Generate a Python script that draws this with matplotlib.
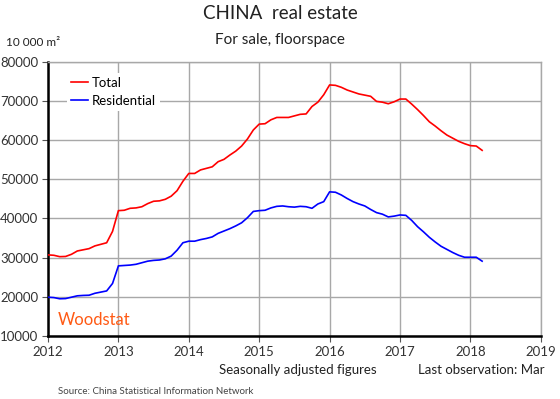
import matplotlib
matplotlib.use("Agg")
import matplotlib.pyplot as plt
import numpy as np

plt.rcParams['font.family'] = ['Lato', 'DejaVu Sans']

# Monthly observations, Jan 2012 .. Mar 2018 (10 000 m2)
start_year = 2012
total = [
    30700, 30600, 30250, 30300, 30850, 31700, 32000, 32300, 33000, 33400, 33800, 36700,  # 2012
    42000, 42100, 42600, 42700, 43000, 43800, 44400, 44500, 44900, 45700, 47100, 49500,  # 2013
    51500, 51500, 52400, 52800, 53200, 54500, 55100, 56200, 57200, 58500, 60300, 62600,  # 2014
    64100, 64200, 65200, 65800, 65800, 65800, 66200, 66600, 66700, 68600, 69700, 71600,  # 2015
    74100, 74000, 73500, 72800, 72300, 71800, 71500, 71200, 69900, 69700, 69300, 69800,  # 2016
    70500, 70500, 69200, 67800, 66300, 64700, 63600, 62400, 61300, 60500, 59700, 59100,  # 2017
    58600, 58500, 57400,                                                                  # 2018
]
residential = [
    19900, 19800, 19500, 19550, 19900, 20250, 20350, 20400, 20900, 21200, 21500, 23400,  # 2012
    27900, 28000, 28100, 28300, 28700, 29100, 29300, 29400, 29700, 30400, 31900, 33800,  # 2013
    34200, 34200, 34600, 34900, 35300, 36200, 36800, 37400, 38100, 38900, 40200, 41800,  # 2014
    42000, 42100, 42700, 43100, 43200, 43000, 42900, 43100, 43000, 42600, 43700, 44300,  # 2015
    46800, 46700, 46000, 45100, 44300, 43700, 43200, 42300, 41500, 41100, 40400, 40600,  # 2016
    40900, 40800, 39500, 37900, 36600, 35200, 34000, 32900, 32100, 31300, 30600, 30100,  # 2017
    30100, 30100, 29100,                                                                  # 2018
]
series_names = ["Total", "Residential"]
x_ticks = [2012, 2013, 2014, 2015, 2016, 2017, 2018, 2019]
y_ticks = [10000, 20000, 30000, 40000, 50000, 60000, 70000, 80000]

x = start_year + np.arange(len(total)) / 12.0

fig = plt.figure(figsize=(5.6, 3.99), dpi=100)
ax = fig.add_axes([0.0857, 0.158, 0.880, 0.687])

ax.plot(x, total, color='#ff0000', lw=1.2, label=series_names[0], zorder=3)
ax.plot(x, residential, color='#0000ff', lw=1.2, label=series_names[1], zorder=3)

ax.set_xlim(2012, 2019)
ax.set_ylim(10000, 80000)
ax.set_xticks(x_ticks)
ax.set_yticks(y_ticks)
ax.set_xticklabels([str(t) for t in x_ticks], fontsize=9.5, color='#333333')
ax.set_yticklabels([str(t) for t in y_ticks], fontsize=9.5, color='#333333')
ax.tick_params(axis='both', length=4, width=0.8, color='#555555', pad=3)

ax.grid(True, color='#a8a8a8', lw=1.0, zorder=0)
for s in ['top', 'right']:
    ax.spines[s].set_color('#a8a8a8')
    ax.spines[s].set_linewidth(1.0)
for s in ['left', 'bottom']:
    ax.spines[s].set_color('black')
    ax.spines[s].set_linewidth(1.8)

leg = ax.legend(loc='upper left', bbox_to_anchor=(0.038, 0.96), fontsize=9.5,
                frameon=True, handlelength=1.3, handletextpad=0.3,
                borderpad=0.3, labelspacing=0.45, borderaxespad=0.0)
leg.get_frame().set_facecolor('white')
leg.get_frame().set_edgecolor('none')
leg.get_frame().set_alpha(1.0)
leg.set_zorder(5)

fig.text(0.5, 0.965, "CHINA  real estate", ha='center', va='center', fontsize=13.5, color='#222222')
fig.text(0.5, 0.9, "For sale, floorspace", ha='center', va='center', fontsize=11, color='#222222')
fig.text(0.01, 0.893, "10 000 m²", ha='left', va='center', fontsize=8.5, color='#222222')
ax.text(0.02, 0.06, "Woodstat", transform=ax.transAxes, fontsize=12,
        color='#ff5a14', ha='left', va='center', fontweight='normal')
fig.text(0.532, 0.073, "Seasonally adjusted figures", ha='center', va='center', fontsize=9.5, color='#222222')
fig.text(0.747, 0.073, "Last observation: Mar", ha='left', va='center', fontsize=9.5, color='#222222')
fig.text(0.104, 0.02, "Source: China Statistical Information Network", ha='left', va='center',
         fontsize=7, color='#444444')

fig.savefig("out.png", dpi=100)
